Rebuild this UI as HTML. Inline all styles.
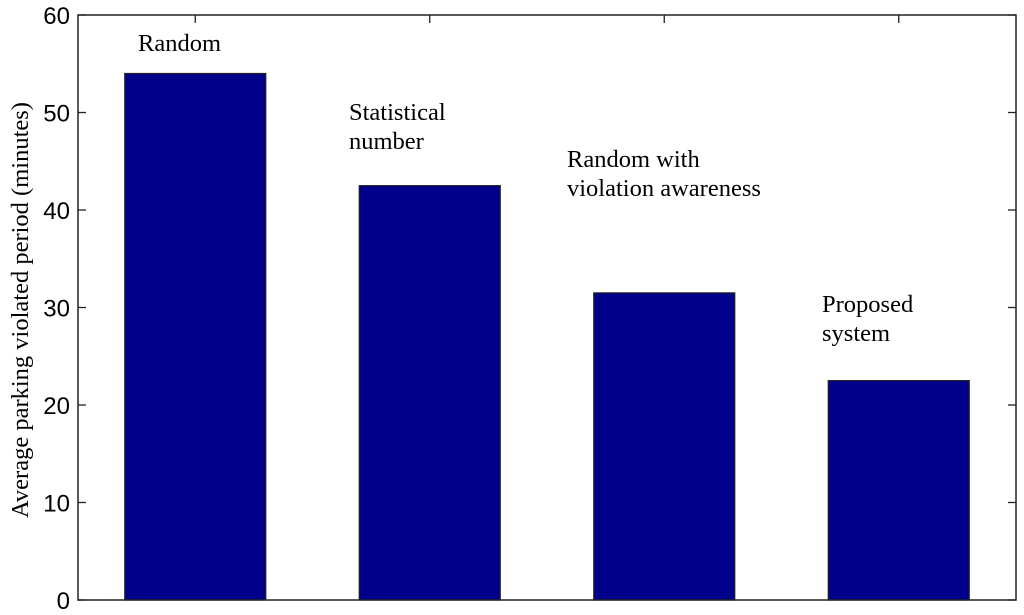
<!DOCTYPE html>
<html><head><meta charset="utf-8"><style>
body{margin:0;background:#fff}
svg{display:block}
.t{font-family:"Liberation Sans",sans-serif;font-size:24px;fill:#000}
.s{font-family:"Liberation Serif",serif;font-size:24.5px;fill:#000}
</style></head><body>
<svg id="c" width="1024" height="615"></svg>
<script>
const categories=[["Random"],["Statistical","number"],["Random with","violation awareness"],["Proposed","system"]];
const values=[54,42.5,31.5,22.5];
const yTicks=[0,10,20,30,40,50,60];
const labelOffsetY=[[51],[120,149],[167,196],[312,341]];
const labelX=[138,349,567,822];
const L=78,R=1016,T=15,B=600;
const y=v=>B-(v/60)*(B-T);
const slot=(R-L)/4;
const xc=i=>L+slot*(i+0.5);
const bw=141;
const svg=document.getElementById('c');
const NS='http://www.w3.org/2000/svg';
function mk(tag,a,parent){const e=document.createElementNS(NS,tag);for(const k in a)e.setAttribute(k,a[k]);(parent||svg).appendChild(e);return e;}
values.forEach((v,i)=>{
 const r=mk('rect',{x:xc(i)-bw/2,y:y(v),width:bw,height:y(0)-y(v),fill:'#00008b',stroke:'#222','stroke-width':1.2});
 
 
 const tk=mk('line',{x1:xc(i),x2:xc(i),y1:T,y2:T+8,stroke:'#222','stroke-width':1.3});
 
 
 categories[i].forEach((line,j)=>{
  const t=mk('text',{x:labelX[i],y:labelOffsetY[i][j],class:'s'});
  t.textContent=line;
  
  
 });
});
const ax=mk('rect',{x:L,y:T,width:R-L,height:B-T,fill:'none',stroke:'#222','stroke-width':1.5});


yTicks.forEach(v=>{
 const l1=mk('line',{x1:L,x2:L+8,y1:y(v),y2:y(v),stroke:'#222','stroke-width':1.3});
 
 
 const l2=mk('line',{x1:R-8,x2:R,y1:y(v),y2:y(v),stroke:'#222','stroke-width':1.3});
 
 
 const t=mk('text',{x:L-8,y:y(v)+9,class:'t','text-anchor':'end'});
 t.textContent=v;
 
 
});
const yt=mk('text',{x:0,y:0,class:'s','text-anchor':'middle',transform:'translate(28,310) rotate(-90)'});
yt.textContent='Average parking violated period (minutes)';


</script>
</body></html>
